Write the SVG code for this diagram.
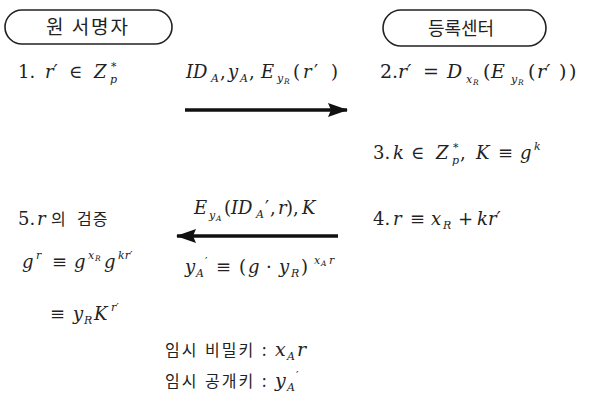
<svg xmlns="http://www.w3.org/2000/svg" width="589" height="402" viewBox="0 0 589 402">
<defs>
<style>
.i{font-style:italic}
.s{font-size:11px}
.t{font-size:7.5px}
.kr{font-family:'Noto Sans CJK KR',sans-serif;font-size:16px}
.pill{fill:#fff;stroke:#222;stroke-width:1.6}
.ar{stroke:#111;stroke-width:3.5;fill:none}
</style>
<marker id="ah" markerWidth="20" markerHeight="14" refX="19" refY="7" orient="auto" markerUnits="userSpaceOnUse">
<path d="M0,0 L20,7 L0,14 L3,7 Z" fill="#111"/>
</marker>
</defs>
<rect width="589" height="402" fill="#fff"/>
<g id="signer">
<rect class="pill" x="5" y="10" width="167" height="34" rx="17"/>
<text x="88" y="34" font-family="Noto Sans CJK KR, sans-serif" font-size="19" letter-spacing="2" text-anchor="middle" fill="#222">원 서명자</text>
</g>
<g id="center">
<rect class="pill" x="383" y="10" width="163" height="36" rx="18"/>
<text x="461" y="35" font-family="Noto Sans CJK KR, sans-serif" font-size="18" text-anchor="middle" fill="#222">등록센터</text>
</g>
<g id="connectors">
<line class="ar" x1="185" y1="110" x2="347" y2="110" marker-end="url(#ah)"/>
<line class="ar" x1="338" y1="236" x2="177" y2="236" marker-end="url(#ah)"/>
</g>
<g style="font-family:'DejaVu Serif',serif" font-size="18" fill="#222">
<g id="labels">
<text y="78"><tspan x="186" class="i">ID</tspan><tspan x="211" class="s i" dy="4">A</tspan><tspan x="220" dy="-4">,</tspan><tspan x="228" class="i">y</tspan><tspan x="240" class="s i" dy="4">A</tspan><tspan x="249" dy="-4">,</tspan><tspan x="261" class="i">E</tspan><tspan x="277" class="s i" dy="4">y</tspan><tspan x="284" class="t i" dy="2">R</tspan><tspan x="293" dy="-6">(</tspan><tspan x="303" class="i">r</tspan><tspan x="314">′</tspan><tspan x="331">)</tspan></text>
<text y="214"><tspan x="194" class="i">E</tspan><tspan x="209" class="s i" dy="5">y</tspan><tspan x="216" class="t i" dy="2">A</tspan><tspan x="224" dy="-7">(</tspan><tspan x="231" class="i">ID</tspan><tspan x="256" class="s i" dy="4">A</tspan><tspan x="265" dy="-4">′</tspan><tspan x="270">,</tspan><tspan x="278" class="i">r</tspan><tspan x="286">),</tspan><tspan x="302" class="i">K</tspan></text>
</g>
<g id="steps">
<text y="78"><tspan x="18">1.</tspan><tspan x="45" class="i">r′</tspan><tspan x="69">∈</tspan><tspan x="94" class="i">Z</tspan><tspan x="111" class="s" dy="-8">*</tspan><tspan x="110" class="s i" dy="13">p</tspan></text>
<text y="78" font-size="19"><tspan x="380">2.</tspan><tspan x="398" class="i">r′</tspan><tspan x="423">=</tspan><tspan x="447" class="i">D</tspan><tspan x="466" class="s i" dy="5">x</tspan><tspan x="473" class="t i" dy="2">R</tspan><tspan x="483" dy="-7">(</tspan><tspan x="491" class="i">E</tspan><tspan x="511" class="s i" dy="5">y</tspan><tspan x="518" class="t i" dy="2">R</tspan><tspan x="528" dy="-7">(</tspan><tspan x="537" class="i">r′</tspan><tspan x="559">)</tspan><tspan x="569">)</tspan></text>
<text y="159"><tspan x="373">3.</tspan><tspan x="393" class="i">k</tspan><tspan x="411">∈</tspan><tspan x="436" class="i">Z</tspan><tspan x="453" class="s" dy="-8">*</tspan><tspan x="452" class="s i" dy="13">p</tspan><tspan x="460" dy="-5">,</tspan><tspan x="476" class="i">K</tspan><tspan x="498">≡</tspan><tspan x="520" class="i">g</tspan><tspan x="534" class="s i" dy="-9">k</tspan></text>
<text y="225"><tspan x="373">4.</tspan><tspan x="393" class="i">r</tspan><tspan x="410">≡</tspan><tspan x="431" class="i">x</tspan><tspan x="443" class="s i" dy="4">R</tspan><tspan x="458" dy="-4">+</tspan><tspan x="477" class="i">kr′</tspan></text>
<text y="225"><tspan x="18">5.</tspan><tspan x="37" class="i">r</tspan><tspan x="51" class="kr">의</tspan><tspan x="77" class="kr" letter-spacing="1">검증</tspan></text>
<text y="268"><tspan x="22" class="i">g</tspan><tspan x="36" class="s i" dy="-9">r</tspan><tspan x="52" dy="9">≡</tspan><tspan x="74" class="i">g</tspan><tspan x="88" class="s i" dy="-9">x</tspan><tspan x="95" class="t i" dy="2">R</tspan><tspan x="104" class="i" dy="7">g</tspan><tspan x="118" class="s i" dy="-9">kr′</tspan></text>
<text y="320"><tspan x="50">≡</tspan><tspan x="73" class="i">y</tspan><tspan x="84" class="s i" dy="4">R</tspan><tspan x="94" class="i" dy="-4">K</tspan><tspan x="111" class="s i" dy="-9">r′</tspan></text>
<text y="273"><tspan x="185" class="i">y</tspan><tspan x="196" class="s i" dy="4">A</tspan><tspan x="205" class="s" dy="-12">′</tspan><tspan x="216" dy="8">≡</tspan><tspan x="239">(</tspan><tspan x="248" class="i">g</tspan><tspan x="266">·</tspan><tspan x="279" class="i">y</tspan><tspan x="291" class="s i" dy="4">R</tspan><tspan x="301" dy="-4">)</tspan><tspan x="314" class="s i" dy="-9">x</tspan><tspan x="321" class="t i" dy="2">A</tspan><tspan x="329" class="s i" dy="-2">r</tspan></text>
<text y="356"><tspan x="165" class="kr" letter-spacing="2">임시</tspan><tspan x="205" class="kr" letter-spacing="2">비밀키</tspan><tspan x="262" class="kr">:</tspan><tspan x="275" class="i" font-size="19">x</tspan><tspan x="287" class="s i" dy="4">A</tspan><tspan x="297" class="i" font-size="19" dy="-4">r</tspan></text>
<text y="387"><tspan x="165" class="kr" letter-spacing="2">임시</tspan><tspan x="205" class="kr" letter-spacing="2">공개키</tspan><tspan x="262" class="kr">:</tspan><tspan x="275" class="i" font-size="19">y</tspan><tspan x="287" class="s i" dy="4">A</tspan><tspan x="296" class="s" dy="-12">′</tspan></text>
</g>
</g>
</svg>
